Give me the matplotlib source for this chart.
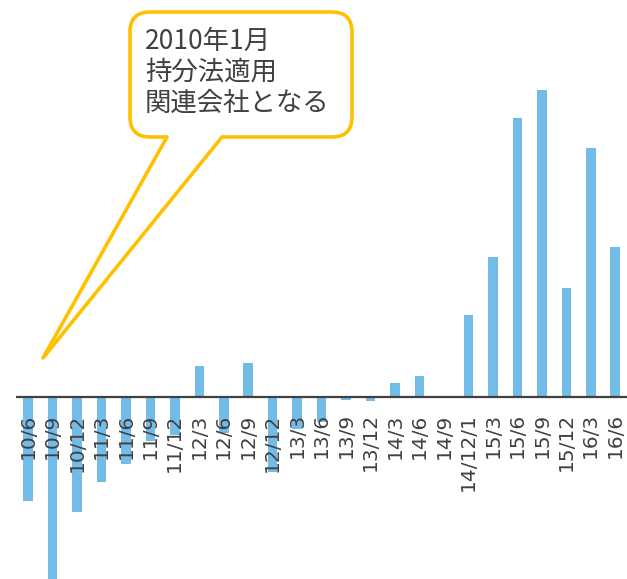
import matplotlib
matplotlib.use("Agg")
import matplotlib.pyplot as plt
from matplotlib.path import Path
from matplotlib.patches import PathPatch
from matplotlib.transforms import Affine2D

categories = ["10/6", "10/9", "10/12", "11/3", "11/6", "11/9", "11/12", "12/3",
              "12/6", "12/9", "12/12", "13/3", "13/6", "13/9", "13/12", "14/3",
              "14/6", "14/9", "14/12/1", "15/3", "15/6", "15/9", "15/12", "16/3", "16/6"]
values = [-104, -182, -115, -85, -67, -44, -38, 31,
          -36, 34, -75, -32, -25, -3, -4, 14,
          21, 0.8, 82, 140, 279, 307, 109, 249, 150]

callout_lines = ["2010年1月", "持分法適用", "関連会社となる"]

W, H = 627, 579
fig = plt.figure(figsize=(W / 100, H / 100), dpi=100)
ax = fig.add_axes([16 / W, 0, (W - 16) / W, 1])

x = list(range(len(categories)))
ax.bar(x, values, width=0.39, color="#74BCE8", zorder=2)
ax.axhline(0, color="#404040", lw=1.6, zorder=3)
ax.set_xlim(-0.49, len(categories) - 0.52)
ax.set_ylim(-182.3, 396.7)
for s in ax.spines.values():
    s.set_visible(False)
ax.set_yticks([])
ax.set_xticks([])
for xi, lab in zip(x, categories):
    ax.annotate(lab, xy=(xi, 0), xytext=(0, -12), textcoords="offset points",
                rotation=90, ha="center", va="top", fontsize=14.5,
                color="#404040", family="DejaVu Sans", zorder=4)

# callout in image pixel coordinates (y downwards)
tr = Affine2D().scale(1 / W, -1 / H).translate(0, 1) + fig.transFigure
L, R, T, B, r = 130, 352, 12, 137, 20
x1, x2 = 167, 222
tip = (43, 358)
verts = [(L + r, T), (R - r, T), (R, T), (R, T + r), (R, B - r), (R, B), (R - r, B),
         (x2, B), tip, (x1, B), (L + r, B), (L, B), (L, B - r), (L, T + r), (L, T),
         (L + r, T), (L + r, T)]
codes = [Path.MOVETO, Path.LINETO, Path.CURVE3, Path.CURVE3, Path.LINETO, Path.CURVE3,
         Path.CURVE3, Path.LINETO, Path.LINETO, Path.LINETO, Path.LINETO, Path.CURVE3,
         Path.CURVE3, Path.LINETO, Path.CURVE3, Path.CURVE3, Path.CLOSEPOLY]
patch = PathPatch(Path(verts, codes), facecolor="white", edgecolor="#FFC000",
                  lw=2.6, transform=tr, zorder=10, joinstyle="round")
fig.patches.append(patch)
for line, base in zip(callout_lines, [49, 80, 111]):
    fig.text(145 / W, 1 - base / H, line, ha="left", va="baseline",
             fontsize=19, color="#404040",
             family=["Noto Sans CJK JP", "DejaVu Sans"], zorder=11)

fig.savefig("out.png", dpi=100)
